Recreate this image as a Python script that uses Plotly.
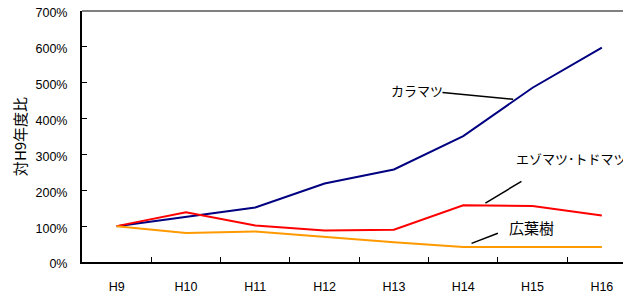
import plotly.graph_objects as go

categories = ["H9", "H10", "H11", "H12", "H13", "H14", "H15", "H16"]
karamatsu = [100, 125, 152, 219, 258, 351, 486, 598]
ezomatsu = [100, 139, 102, 88, 90, 158, 156, 130]
kouyouju = [100, 81, 85, 69, 55, 42, 42, 42]
y_ticks = [0, 100, 200, 300, 400, 500, 600, 700]
y_tick_labels = [f"{v}%" for v in y_ticks]

font_tick = "Liberation Sans, Arial, sans-serif"
font_jp = "Noto Sans CJK JP, sans-serif"

fig = go.Figure()
fig.add_trace(go.Scatter(x=categories, y=karamatsu, mode="lines",
                         line=dict(color="#000080", width=2), name="カラマツ"))
fig.add_trace(go.Scatter(x=categories, y=ezomatsu, mode="lines",
                         line=dict(color="#FF0000", width=2), name="エゾマツ･トドマツ"))
fig.add_trace(go.Scatter(x=categories, y=kouyouju, mode="lines",
                         line=dict(color="#FF9900", width=2), name="広葉樹"))

# leader lines (data coords)
leaders = [
    (4.70, 473, 5.72, 454),
    (5.84, 225, 5.32, 164),
    (5.50, 80, 5.12, 52),
]
for x0, y0, x1, y1 in leaders:
    fig.add_shape(type="line", xref="x", yref="y", x0=x0, y0=y0, x1=x1, y1=y1,
                  line=dict(color="black", width=1.5))

# top border (gray)
fig.add_shape(type="line", xref="paper", yref="paper", x0=0, x1=1, y0=1, y1=1,
              line=dict(color="#808080", width=2), layer="above")

fig.add_annotation(x=4.33, y=479, xref="x", yref="y", text="カラマツ", showarrow=False,
                   font=dict(family=font_jp, size=13, color="black"))
fig.add_annotation(x=5.73, y=289, xref="x", yref="y", text="エゾマツ･トドマツ", showarrow=False,
                   xanchor="left", font=dict(family=font_jp, size=13, color="black"))
fig.add_annotation(x=5.99, y=97, xref="x", yref="y", text="広葉樹", showarrow=False,
                   font=dict(family=font_jp, size=15, color="black"))

fig.update_layout(
    width=623, height=296,
    margin=dict(l=82, r=0, t=11, b=34, autoexpand=False),
    paper_bgcolor="white", plot_bgcolor="white",
    showlegend=False,
    xaxis=dict(
        type="category", range=[-0.5, 7.305], automargin=False,
        tickson="boundaries", ticks="inside", ticklen=5, tickcolor="black",
        showline=True, linecolor="black", linewidth=2,
        showgrid=False, zeroline=False, ticklabelstandoff=12,
        tickfont=dict(family=font_tick, size=12.5, color="black"),
    ),
    yaxis=dict(
        range=[0, 700], tickvals=y_ticks, ticktext=y_tick_labels, automargin=False,
        ticks="inside", ticklen=5, tickcolor="black",
        showline=True, linecolor="black", linewidth=2,
        showgrid=False, zeroline=False, ticklabelstandoff=10,
        ticklabelshift=2, ticklabeloverflow="allow",
        tickfont=dict(family=font_tick, size=12.5, color="black"),
        title=dict(text="対H9年度比", font=dict(family=font_jp, size=15, color="black"),
                   standoff=5),
    ),
)

# remove the default 8px body margin so the figure fills the window
fig.write_html("out.html", config={"displayModeBar": False},
               post_script="document.body.style.margin='0';")
